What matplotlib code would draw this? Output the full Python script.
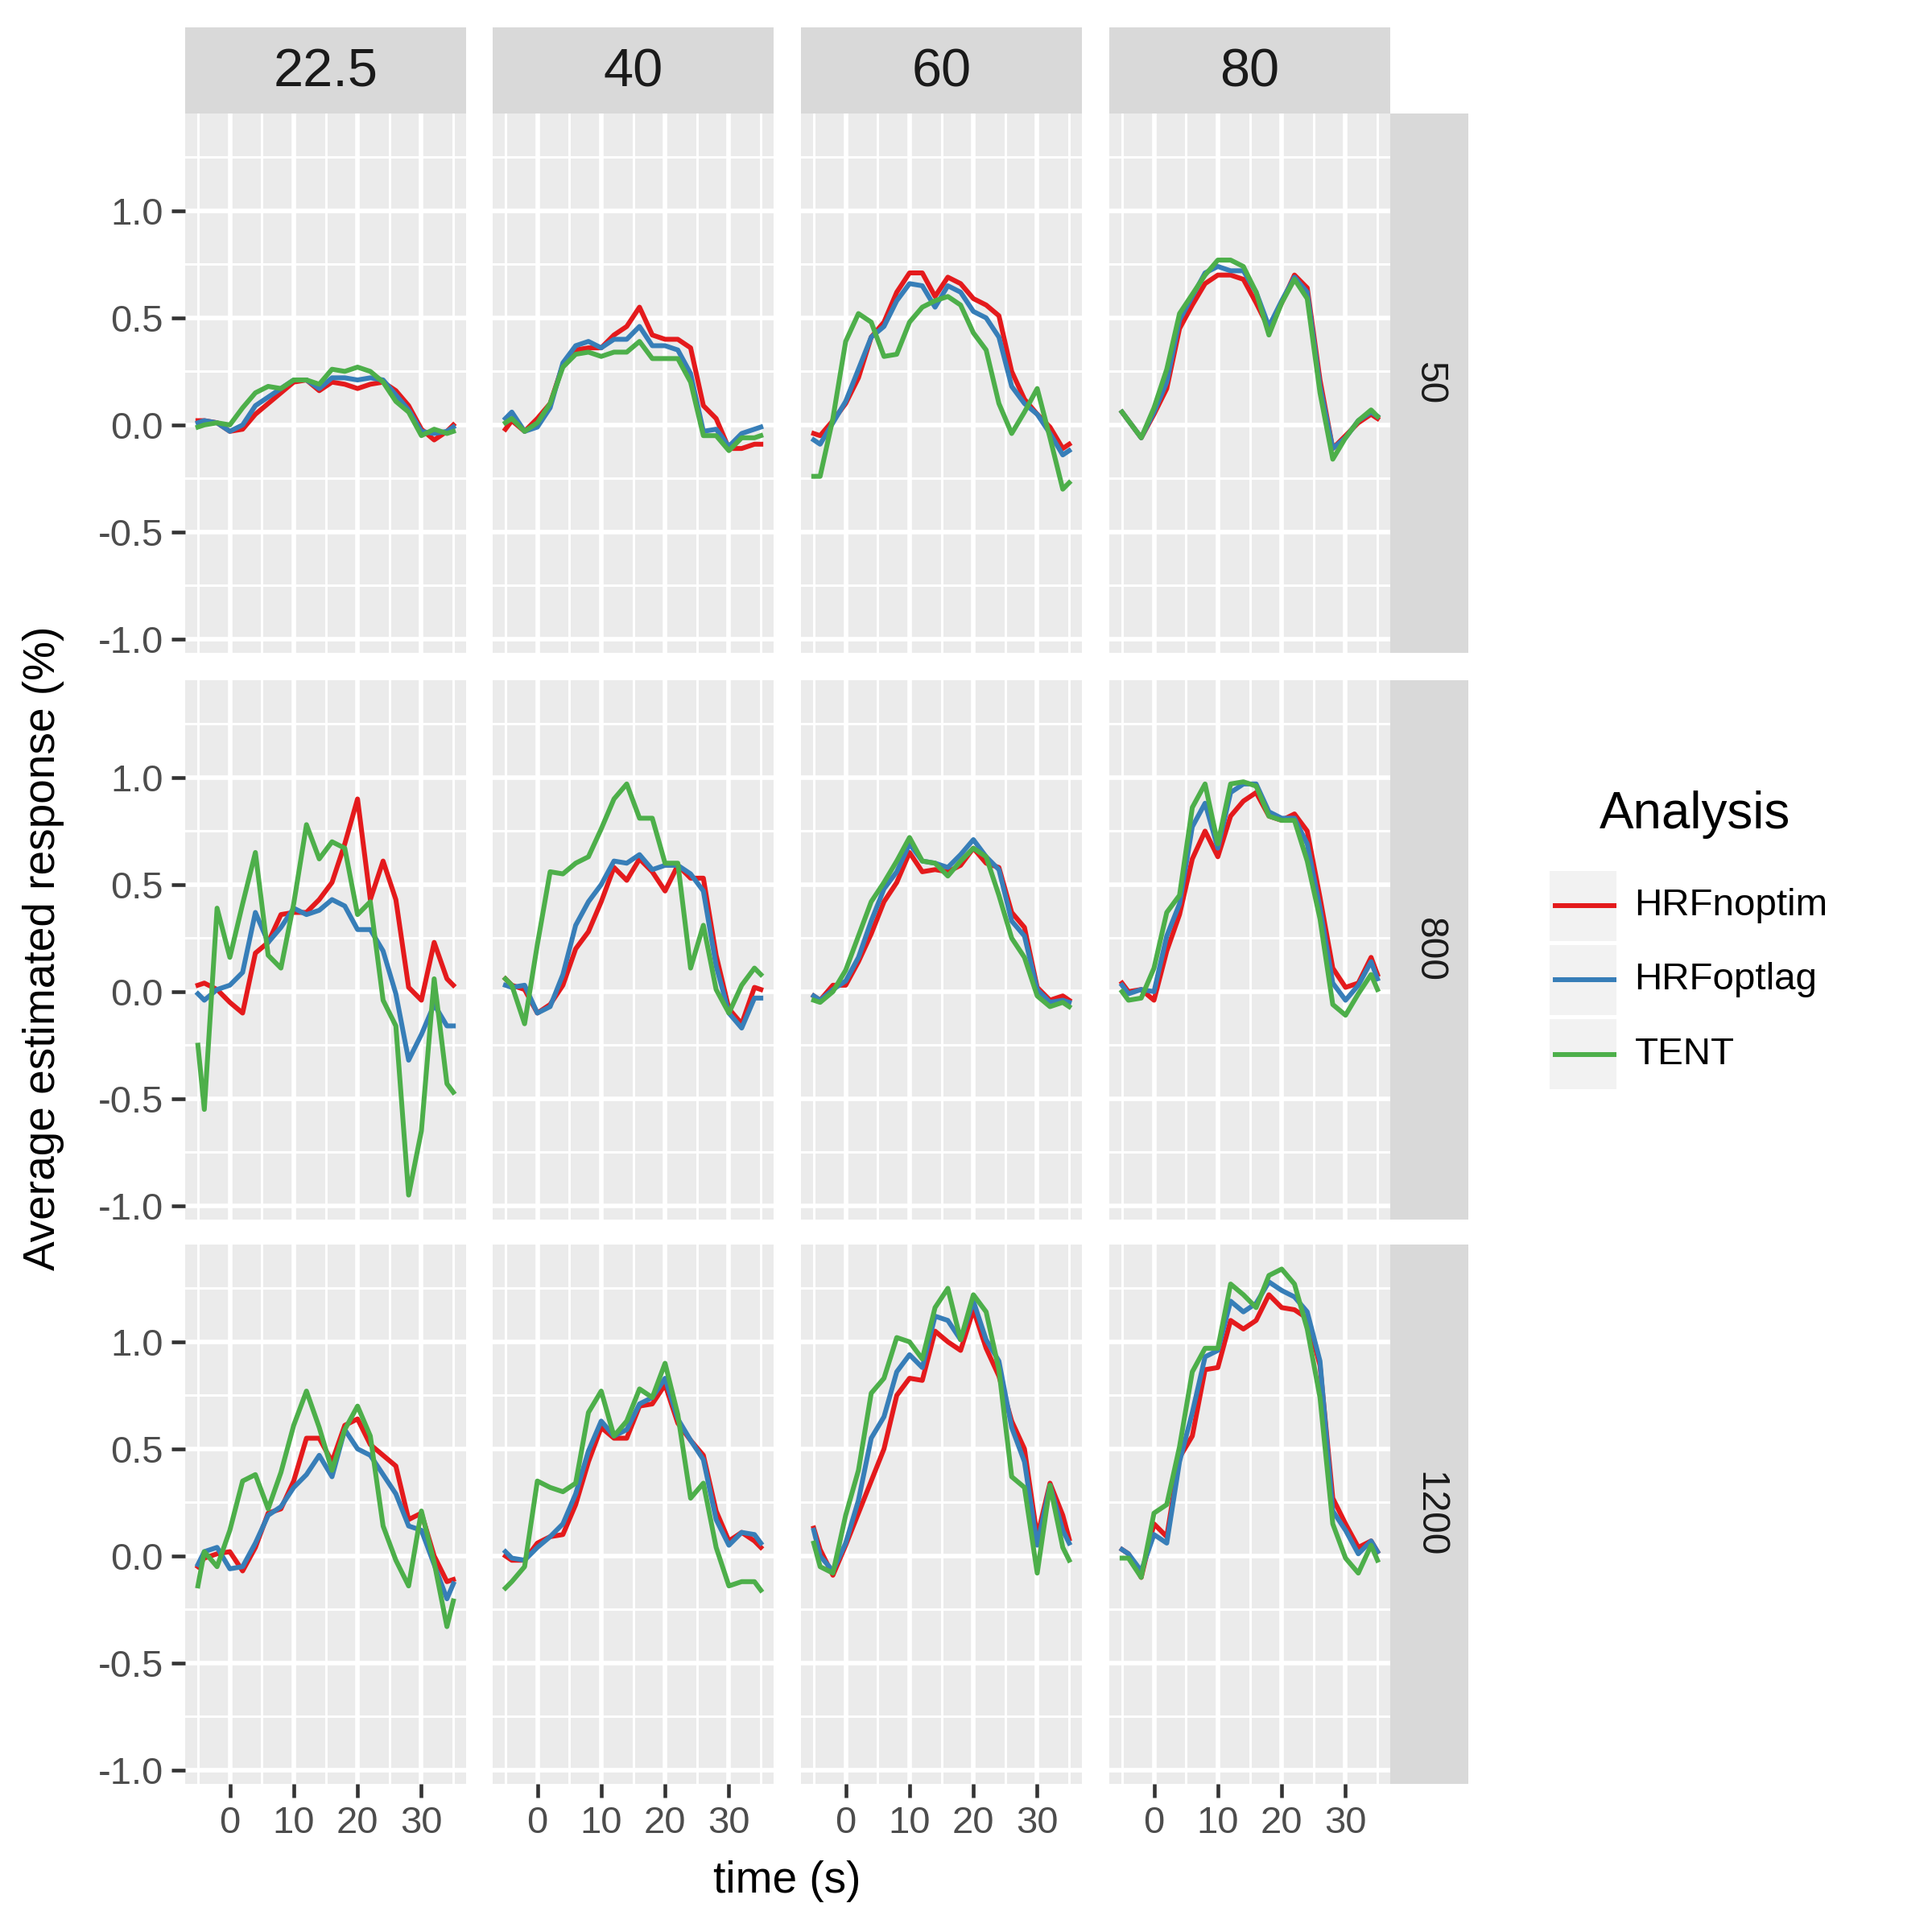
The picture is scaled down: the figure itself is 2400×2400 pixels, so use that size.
import numpy as np
import matplotlib
matplotlib.use('Agg')
import matplotlib.pyplot as plt
from matplotlib.patches import Rectangle
from matplotlib.ticker import FormatStrFormatter

plt.rcParams['font.family'] = ['Liberation Sans', 'DejaVu Sans']
plt.rcParams['axes.unicode_minus'] = False

# time points (s)
times = [-5, -4, -2, 0, 2, 4, 6, 8, 10, 12, 14, 16, 18, 20, 22, 24, 26, 28, 30, 32, 34, 35]

col_labels = ['22.5', '40', '60', '80']
row_labels = ['50', '800', '1200']
analyses = ['HRFnoptim', 'HRFoptlag', 'TENT']
colors = ['#E41A1C', '#377EB8', '#4DAF4A']

# row 50
noptim_50_225 = [0.02, 0.02, 0.01, -0.03, -0.02, 0.05, 0.10, 0.15, 0.20, 0.21, 0.16, 0.20, 0.19, 0.17, 0.19, 0.20, 0.16, 0.09, -0.02, -0.07, -0.03, 0.00]
optlag_50_225 = [0.01, 0.02, 0.01, -0.03, 0.00, 0.09, 0.13, 0.17, 0.21, 0.21, 0.17, 0.22, 0.22, 0.21, 0.22, 0.21, 0.14, 0.07, -0.03, -0.04, -0.03, -0.01]
tent_50_225 = [-0.01, 0.00, 0.01, 0.00, 0.08, 0.15, 0.18, 0.17, 0.21, 0.21, 0.19, 0.26, 0.25, 0.27, 0.25, 0.20, 0.11, 0.06, -0.05, -0.02, -0.04, -0.03]
noptim_50_40 = [-0.02, 0.02, -0.03, 0.03, 0.10, 0.28, 0.35, 0.36, 0.36, 0.42, 0.46, 0.55, 0.42, 0.40, 0.40, 0.36, 0.09, 0.03, -0.11, -0.11, -0.09, -0.09]
optlag_50_40 = [0.03, 0.06, -0.03, -0.01, 0.08, 0.29, 0.37, 0.39, 0.36, 0.40, 0.40, 0.46, 0.37, 0.37, 0.35, 0.24, -0.03, -0.02, -0.10, -0.04, -0.02, -0.01]
tent_50_40 = [0.01, 0.03, -0.03, 0.01, 0.10, 0.27, 0.33, 0.34, 0.32, 0.34, 0.34, 0.39, 0.31, 0.31, 0.31, 0.20, -0.05, -0.05, -0.12, -0.06, -0.06, -0.05]
noptim_50_60 = [-0.04, -0.05, 0.02, 0.10, 0.22, 0.41, 0.48, 0.62, 0.71, 0.71, 0.60, 0.69, 0.66, 0.59, 0.56, 0.51, 0.25, 0.12, 0.05, -0.01, -0.11, -0.09]
optlag_50_60 = [-0.07, -0.09, 0.01, 0.11, 0.26, 0.41, 0.46, 0.58, 0.66, 0.65, 0.55, 0.65, 0.62, 0.53, 0.50, 0.41, 0.18, 0.10, 0.05, -0.04, -0.14, -0.12]
tent_50_60 = [-0.24, -0.24, 0.03, 0.39, 0.52, 0.48, 0.32, 0.33, 0.48, 0.55, 0.58, 0.60, 0.56, 0.43, 0.35, 0.10, -0.04, 0.06, 0.17, -0.06, -0.30, -0.27]
noptim_50_80 = [0.06, 0.02, -0.06, 0.05, 0.17, 0.45, 0.56, 0.66, 0.70, 0.70, 0.68, 0.57, 0.45, 0.57, 0.70, 0.64, 0.21, -0.11, -0.05, 0.01, 0.05, 0.03]
optlag_50_80 = [0.06, 0.02, -0.06, 0.06, 0.20, 0.49, 0.60, 0.71, 0.74, 0.72, 0.72, 0.62, 0.46, 0.58, 0.69, 0.62, 0.18, -0.11, -0.06, 0.02, 0.06, 0.04]
tent_50_80 = [0.06, 0.02, -0.06, 0.08, 0.26, 0.52, 0.61, 0.70, 0.77, 0.77, 0.74, 0.62, 0.42, 0.57, 0.68, 0.59, 0.15, -0.16, -0.06, 0.02, 0.07, 0.04]

# row 800
noptim_800_225 = [0.03, 0.04, 0.01, -0.05, -0.10, 0.18, 0.23, 0.36, 0.37, 0.37, 0.43, 0.51, 0.69, 0.90, 0.43, 0.61, 0.43, 0.02, -0.04, 0.23, 0.06, 0.03]
optlag_800_225 = [-0.01, -0.04, 0.01, 0.03, 0.09, 0.37, 0.23, 0.30, 0.39, 0.36, 0.38, 0.43, 0.40, 0.29, 0.29, 0.19, -0.01, -0.32, -0.20, -0.06, -0.16, -0.16]
tent_800_225 = [-0.25, -0.55, 0.39, 0.16, 0.41, 0.65, 0.17, 0.11, 0.41, 0.78, 0.62, 0.70, 0.67, 0.36, 0.42, -0.04, -0.16, -0.95, -0.65, 0.06, -0.43, -0.47]
noptim_800_40 = [0.06, 0.03, 0.01, -0.10, -0.06, 0.03, 0.20, 0.28, 0.42, 0.58, 0.52, 0.62, 0.56, 0.47, 0.59, 0.53, 0.53, 0.17, -0.08, -0.15, 0.02, 0.01]
optlag_800_40 = [0.03, 0.02, 0.03, -0.10, -0.07, 0.08, 0.31, 0.42, 0.50, 0.61, 0.60, 0.64, 0.57, 0.59, 0.59, 0.55, 0.47, 0.12, -0.10, -0.17, -0.03, -0.03]
tent_800_40 = [0.06, 0.03, -0.15, 0.22, 0.56, 0.55, 0.60, 0.63, 0.76, 0.90, 0.97, 0.81, 0.81, 0.60, 0.60, 0.11, 0.31, 0.01, -0.10, 0.03, 0.11, 0.08]
noptim_800_60 = [-0.02, -0.04, 0.03, 0.03, 0.14, 0.27, 0.42, 0.51, 0.65, 0.56, 0.57, 0.56, 0.59, 0.67, 0.60, 0.58, 0.37, 0.30, 0.02, -0.04, -0.02, -0.04]
optlag_800_60 = [-0.02, -0.04, 0.01, 0.05, 0.16, 0.33, 0.48, 0.56, 0.69, 0.61, 0.60, 0.58, 0.64, 0.71, 0.63, 0.57, 0.33, 0.26, 0.01, -0.05, -0.04, -0.05]
tent_800_60 = [-0.04, -0.05, 0.00, 0.10, 0.26, 0.42, 0.51, 0.61, 0.72, 0.61, 0.60, 0.54, 0.61, 0.67, 0.63, 0.45, 0.25, 0.16, -0.02, -0.07, -0.05, -0.07]
noptim_800_80 = [0.04, 0.00, 0.01, -0.04, 0.19, 0.36, 0.62, 0.75, 0.63, 0.82, 0.89, 0.93, 0.82, 0.80, 0.83, 0.75, 0.44, 0.11, 0.02, 0.04, 0.16, 0.08]
optlag_800_80 = [0.03, -0.01, 0.01, 0.00, 0.26, 0.41, 0.77, 0.88, 0.67, 0.93, 0.97, 0.97, 0.84, 0.81, 0.81, 0.69, 0.39, 0.04, -0.04, 0.03, 0.14, 0.06]
tent_800_80 = [0.00, -0.04, -0.03, 0.11, 0.37, 0.45, 0.86, 0.97, 0.69, 0.97, 0.98, 0.96, 0.82, 0.80, 0.80, 0.61, 0.34, -0.06, -0.11, -0.01, 0.08, 0.01]

# row 1200
noptim_1200_225 = [-0.05, -0.01, 0.01, 0.02, -0.07, 0.04, 0.20, 0.22, 0.35, 0.55, 0.55, 0.44, 0.61, 0.64, 0.52, 0.47, 0.42, 0.17, 0.20, 0.00, -0.12, -0.11]
optlag_1200_225 = [-0.04, 0.02, 0.04, -0.06, -0.05, 0.06, 0.19, 0.23, 0.32, 0.38, 0.47, 0.37, 0.59, 0.50, 0.47, 0.38, 0.29, 0.14, 0.12, -0.04, -0.20, -0.13]
tent_1200_225 = [-0.14, 0.02, -0.05, 0.12, 0.35, 0.38, 0.22, 0.39, 0.61, 0.77, 0.60, 0.40, 0.59, 0.70, 0.56, 0.14, -0.02, -0.14, 0.21, -0.03, -0.33, -0.21]
noptim_1200_40 = [0.00, -0.02, -0.02, 0.06, 0.09, 0.10, 0.24, 0.44, 0.60, 0.55, 0.55, 0.70, 0.71, 0.80, 0.62, 0.54, 0.47, 0.21, 0.07, 0.11, 0.07, 0.04]
optlag_1200_40 = [0.02, -0.01, -0.02, 0.04, 0.09, 0.15, 0.29, 0.49, 0.63, 0.56, 0.59, 0.71, 0.74, 0.83, 0.64, 0.54, 0.45, 0.17, 0.05, 0.11, 0.10, 0.06]
tent_1200_40 = [-0.15, -0.12, -0.05, 0.35, 0.32, 0.30, 0.34, 0.67, 0.77, 0.56, 0.63, 0.78, 0.74, 0.90, 0.66, 0.27, 0.34, 0.04, -0.14, -0.12, -0.12, -0.16]
noptim_1200_60 = [0.13, 0.03, -0.09, 0.05, 0.20, 0.35, 0.50, 0.75, 0.83, 0.82, 1.05, 1.00, 0.96, 1.15, 0.97, 0.84, 0.63, 0.50, 0.09, 0.34, 0.19, 0.08]
optlag_1200_60 = [0.12, 0.00, -0.07, 0.06, 0.26, 0.55, 0.65, 0.86, 0.94, 0.88, 1.12, 1.10, 1.01, 1.19, 1.01, 0.91, 0.60, 0.44, 0.05, 0.33, 0.12, 0.06]
tent_1200_60 = [0.06, -0.05, -0.08, 0.19, 0.40, 0.76, 0.83, 1.02, 1.00, 0.92, 1.16, 1.25, 1.01, 1.22, 1.14, 0.87, 0.37, 0.32, -0.08, 0.33, 0.04, -0.02]
noptim_1200_80 = [0.03, 0.01, -0.10, 0.15, 0.09, 0.46, 0.56, 0.87, 0.88, 1.10, 1.06, 1.10, 1.22, 1.16, 1.15, 1.11, 0.89, 0.27, 0.15, 0.04, 0.07, 0.02]
optlag_1200_80 = [0.03, 0.01, -0.07, 0.10, 0.06, 0.44, 0.67, 0.93, 0.96, 1.19, 1.14, 1.18, 1.28, 1.24, 1.21, 1.14, 0.91, 0.21, 0.12, 0.01, 0.07, 0.02]
tent_1200_80 = [-0.01, -0.01, -0.10, 0.20, 0.24, 0.51, 0.86, 0.97, 0.97, 1.27, 1.22, 1.16, 1.31, 1.34, 1.27, 1.06, 0.74, 0.15, -0.01, -0.08, 0.05, -0.02]

panels = [
    [(noptim_50_225, optlag_50_225, tent_50_225), (noptim_50_40, optlag_50_40, tent_50_40),
     (noptim_50_60, optlag_50_60, tent_50_60), (noptim_50_80, optlag_50_80, tent_50_80)],
    [(noptim_800_225, optlag_800_225, tent_800_225), (noptim_800_40, optlag_800_40, tent_800_40),
     (noptim_800_60, optlag_800_60, tent_800_60), (noptim_800_80, optlag_800_80, tent_800_80)],
    [(noptim_1200_225, optlag_1200_225, tent_1200_225), (noptim_1200_40, optlag_1200_40, tent_1200_40),
     (noptim_1200_60, optlag_1200_60, tent_1200_60), (noptim_1200_80, optlag_1200_80, tent_1200_80)],
]

allv = np.concatenate([np.array(s) for row in panels for p in row for s in p])
lo, hi = allv.min(), allv.max()
pad = 0.05 * (hi - lo)
ylim = (lo - pad, hi + pad)
xlim = (min(times) - 0.05 * (max(times) - min(times)), max(times) + 0.05 * (max(times) - min(times)))

W = 2400.0
def fbox(x0, y0, x1, y1):
    return [x0 / W, 1 - y1 / W, (x1 - x0) / W, (y1 - y0) / W]

col_x = [(230, 579), (612, 961), (995, 1344), (1378, 1727)]
row_y = [(141, 811), (845, 1515), (1546, 2216)]

LW = 1.45

fig = plt.figure(figsize=(8, 8), dpi=300)

for r, (y0, y1) in enumerate(row_y):
    for c, (x0, x1) in enumerate(col_x):
        ax = fig.add_axes(fbox(x0, y0, x1, y1))
        ax.set_facecolor('#EBEBEB')
        for s in ax.spines.values():
            s.set_visible(False)
        ax.set_xlim(*xlim)
        ax.set_ylim(*ylim)
        ax.set_xticks([0, 10, 20, 30])
        ax.set_xticks([-5, 5, 15, 25, 35], minor=True)
        ax.set_yticks([-1.0, -0.5, 0.0, 0.5, 1.0])
        ax.set_yticks([-0.75, -0.25, 0.25, 0.75, 1.25], minor=True)
        ax.yaxis.set_major_formatter(FormatStrFormatter('%.1f'))
        ax.grid(which='major', color='white', lw=1.35)
        ax.grid(which='minor', color='white', lw=0.7)
        ax.set_axisbelow(True)
        ax.tick_params(which='minor', length=0)
        ax.tick_params(which='major', length=4, width=1.1, color='#333333',
                       labelsize=11.3, labelcolor='#4D4D4D', pad=2.5)
        if c != 0:
            ax.tick_params(axis='y', left=False, labelleft=False)
        if r != 2:
            ax.tick_params(axis='x', bottom=False, labelbottom=False)
        for vals, col in zip(panels[r][c], colors):
            ax.plot(times, vals, color=col, lw=LW)

# top strips
for c, (x0, x1) in enumerate(col_x):
    sa = fig.add_axes(fbox(x0, 34, x1, 141))
    sa.set_facecolor('#D9D9D9')
    sa.set_xticks([]); sa.set_yticks([])
    for s in sa.spines.values():
        s.set_visible(False)
    sa.text(0.5, 0.47, col_labels[c], ha='center', va='center', fontsize=16,
            color='#1A1A1A', transform=sa.transAxes)

# right strips
for r, (y0, y1) in enumerate(row_y):
    sa = fig.add_axes(fbox(1727, y0, 1824, y1))
    sa.set_facecolor('#D9D9D9')
    sa.set_xticks([]); sa.set_yticks([])
    for s in sa.spines.values():
        s.set_visible(False)
    sa.text(0.5, 0.5, row_labels[r], ha='center', va='center', fontsize=11.5,
            rotation=-90, color='#1A1A1A', transform=sa.transAxes)

fig.text(978 / W, 1 - 2337 / W, 'time (s)', ha='center', va='center', fontsize=13.2)
fig.text(54 / W, 1 - 1178 / W, 'Average estimated response (%)', ha='center', va='center',
         fontsize=13.2, rotation=90)

# legend
la = fig.add_axes(fbox(1925, 1079, 2008, 1356))
la.set_xlim(0, 1)
la.set_ylim(3, 0)
la.axis('off')
for i, (name, col) in enumerate(zip(analyses, colors)):
    la.add_patch(Rectangle((0, i + 0.03), 1, 0.94, facecolor='#F2F2F2', edgecolor='none'))
    la.plot([0.08, 0.96], [i + 0.5, i + 0.5], color=col, lw=LW)
    la.text(1.27, i + 0.5, name, ha='left', va='center', fontsize=11.4, color='black',
            clip_on=False)
fig.text(1987 / W, 1 - 1012 / W, 'Analysis', ha='left', va='center', fontsize=15.3)

fig.savefig('out.png', dpi=300, facecolor='white')
